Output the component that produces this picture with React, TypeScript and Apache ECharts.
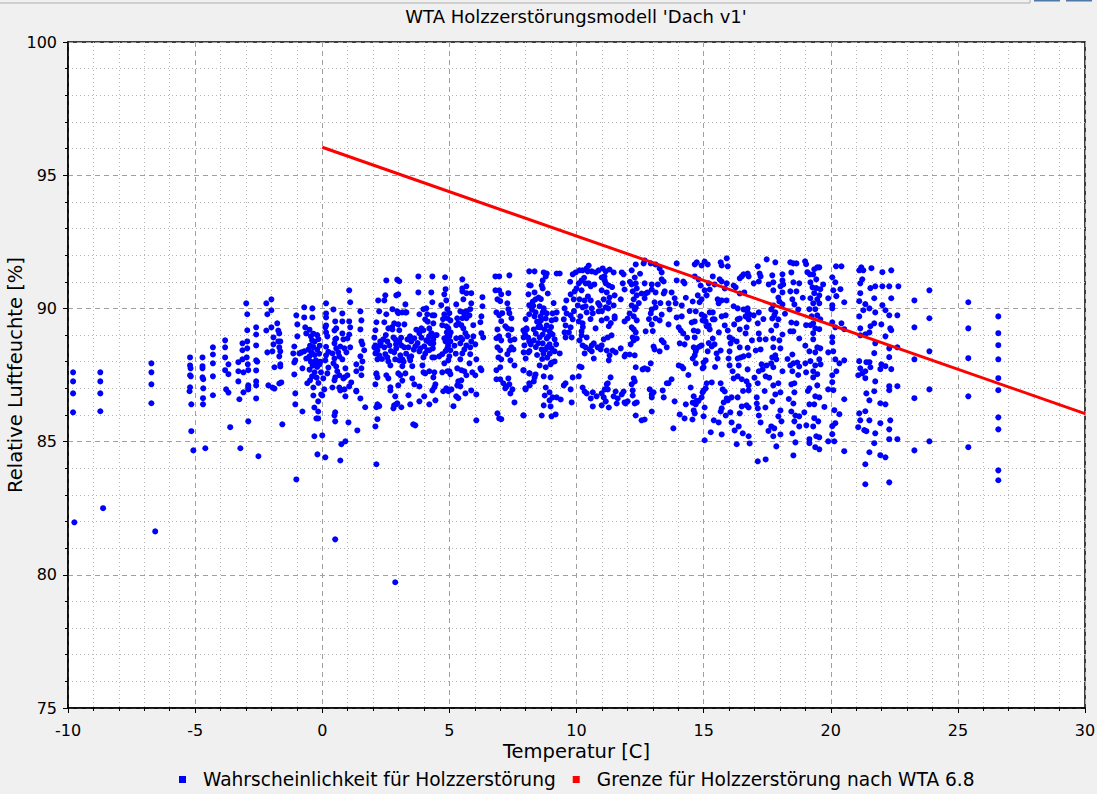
import React, { useEffect, useRef } from "react";
import * as echarts from "echarts";

// Temperatur [°C], relative Luftfeuchte [%]
const coldPoints: [number, number][] = [
  [-9.8, 87.6], [-9.8, 87.26], [-9.8, 86.81], [-9.8, 86.1], [-9.75, 81.97],
  [-8.73, 87.6], [-8.73, 87.26], [-8.73, 86.81], [-8.73, 86.14], [-8.62, 82.5],
  [-6.72, 87.94], [-6.72, 87.6], [-6.72, 87.15], [-6.72, 86.44], [-6.57, 81.63],
  [-5.2, 88.16], [-5.2, 87.86], [-5.18, 87.75], [-5.2, 87.49], [-5.17, 87.45], [-5.2, 87.04], [-5.22, 86.89], [-5.15, 86.4], [-5.15, 85.39], [-5.07, 84.67],
  [-4.71, 88.16], [-4.71, 87.83], [-4.71, 87.75], [-4.71, 87.41], [-4.68, 87.34], [-4.68, 87.0], [-4.69, 86.63], [-4.69, 86.4], [-4.6, 84.75],
  [-4.3, 88.54], [-4.3, 88.27], [-4.3, 87.94], [-4.3, 87.45], [-4.3, 86.74],
  [-3.82, 88.8], [-3.82, 88.54], [-3.82, 88.16], [-3.69, 87.9], [-3.82, 87.68], [-3.69, 87.53], [-3.78, 86.96], [-3.69, 86.84], [-3.62, 85.54], [-3.22, 84.75],
  [-2.99, 90.19], [-2.95, 89.78], [-2.95, 89.18], [-2.95, 88.76], [-3.14, 88.69], [-2.95, 88.5], [-3.14, 88.43], [-2.97, 88.16], [-3.14, 88.09], [-3.3, 87.98],
  [-2.93, 87.9], [-2.91, 87.68], [-3.3, 87.64], [-3.1, 87.6], [-3.3, 87.26], [-2.91, 87.11], [-2.91, 87.04], [-2.91, 86.96], [-3.1, 86.85], [-3.26, 86.59],
  [-2.91, 85.76], [-2.51, 84.45],
  [-2.6, 89.29], [-2.6, 89.02], [-2.6, 88.61], [-2.6, 88.05], [-2.56, 88.0], [-2.6, 87.67], [-2.6, 87.26], [-2.6, 87.11], [-2.6, 86.62],
  [-2.2, 90.19], [-2.16, 89.78], [-2.0, 90.34], [-2.0, 89.93], [-2.2, 89.17], [-2.0, 89.29], [-1.92, 88.91], [-1.92, 88.65], [-1.96, 88.39], [-2.16, 88.35],
  [-2.12, 87.11], [-1.96, 87.03], [-1.88, 86.99], [-1.88, 87.79], [-1.57, 85.65],
  [-1.77, 89.44], [-1.73, 89.17], [-1.69, 89.06], [-1.73, 88.76], [-1.65, 88.76], [-1.69, 88.54], [-1.65, 88.39], [-1.69, 88.2], [-1.65, 87.9], [-1.65, 87.82],
  [-1.69, 87.18], [-1.61, 87.22],
];

const thawPoints: [number, number][] = [
  [-1.02, 89.74], [-0.98, 89.4], [-1.1, 88.57], [-0.9, 88.31], [-1.14, 88.31], [-1.1, 87.97], [-1.06, 88.05], [-1.1, 87.52], [-1.06, 86.81], [-1.06, 86.4],
  [-0.78, 86.13], [-1.02, 83.58], [-0.98, 88.95], [-0.82, 88.35], [-0.78, 87.75],
  [-0.71, 90.04], [-0.71, 89.66], [-0.39, 90.0], [-0.39, 89.66], [-0.67, 89.29], [-0.63, 89.06], [-0.71, 88.39], [-0.63, 88.12], [-0.59, 87.19], [-0.35, 87.03],
  [-0.35, 86.73], [-0.31, 86.28], [-0.23, 85.87], [-0.16, 85.87], [-0.16, 86.13], [-0.16, 86.51], [-0.31, 85.2], [-0.19, 84.52], [0.0, 85.23], [-0.04, 86.77],
  [-0.5, 89.2], [-0.45, 88.95], [-0.4, 88.8], [-0.48, 88.6], [-0.35, 88.55], [-0.3, 88.75], [-0.2, 88.45], [-0.42, 88.35], [-0.5, 88.2], [-0.3, 88.25],
  [-0.25, 88.05], [-0.45, 88.0], [-0.38, 87.85], [-0.2, 87.8], [-0.5, 87.7], [-0.3, 87.6], [-0.4, 87.45], [-0.22, 87.4], [-0.48, 87.3], [-0.15, 87.2],
  [-0.1, 88.6], [-0.12, 88.3], [-0.08, 88.0], [-0.05, 87.6], [-0.35, 89.05], [-0.2, 89.0], [-0.15, 88.85], [-0.55, 88.45], [-0.28, 87.95], [-0.1, 87.9],
  [0.15, 90.19], [0.15, 89.81], [0.15, 89.66], [0.15, 89.36], [0.12, 89.29], [0.2, 88.95], [0.15, 88.56], [0.24, 88.37], [0.15, 88.24], [0.12, 88.05],
  [0.04, 87.37], [0.08, 86.96], [0.0, 86.73], [0.12, 84.41], [0.15, 89.1], [0.24, 87.78], [0.2, 87.56],
  [0.44, 89.96], [0.51, 89.51], [0.55, 89.25], [0.48, 89.17], [0.51, 88.84], [0.55, 88.87], [0.48, 88.69], [0.55, 88.5], [0.63, 88.35], [0.4, 88.31],
  [0.48, 88.12], [0.67, 88.2], [0.44, 87.94], [0.55, 87.82], [0.51, 87.41], [0.48, 87.3], [0.67, 87.49], [0.59, 87.64], [0.87, 87.41], [0.4, 87.03],
  [0.67, 87.03], [0.51, 86.1], [0.48, 85.98], [0.51, 85.76], [0.71, 84.29], [0.91, 85.01], [0.75, 84.9], [0.51, 81.33],
  [0.79, 89.81], [0.79, 89.51], [0.79, 89.06], [0.83, 88.84], [0.87, 88.5], [0.95, 88.35], [0.71, 88.57], [0.79, 88.09], [0.91, 87.75], [0.99, 87.49],
  [0.83, 87.37], [0.87, 86.96], [0.71, 86.92], [0.91, 86.7], [1.03, 85.72], [1.06, 90.68], [1.1, 90.23], [1.06, 89.51], [1.1, 89.29], [1.06, 89.02],
  [1.1, 88.54], [0.99, 88.87], [1.34, 87.9], [1.06, 87.07], [1.14, 87.22], [1.34, 86.88], [1.38, 85.42],
  [1.5, 89.89], [1.54, 89.55], [1.5, 89.21], [1.54, 88.76], [1.58, 88.65], [1.65, 88.43], [1.5, 88.2], [1.58, 88.01], [1.54, 87.75], [1.54, 87.49],
  [1.34, 87.64], [1.34, 86.91], [1.5, 86.62], [1.69, 86.29],
];

const springPoints: [number, number][] = [
  [2.2, 90.3], [2.24, 89.89], [2.13, 89.48], [2.09, 89.18], [2.05, 88.9], [2.09, 88.61], [2.13, 88.5], [2.09, 88.31], [2.17, 88.09], [2.13, 87.53],
  [2.17, 87.41], [2.09, 87.15], [2.17, 86.4], [2.13, 86.29], [2.24, 86.33], [2.17, 85.84], [2.09, 85.57], [2.13, 84.15], [2.28, 88.76], [2.05, 88.54],
  [2.17, 88.43], [2.24, 88.24], [2.28, 88.61], [2.13, 87.56],
  [2.52, 91.05], [2.48, 90.49], [2.44, 90.3], [2.52, 89.78], [2.44, 89.48], [2.6, 89.25], [2.4, 88.84], [2.56, 88.76], [2.64, 88.61], [2.44, 88.54],
  [2.48, 88.28], [2.56, 88.16], [2.6, 88.01], [2.68, 87.86], [2.6, 87.37], [2.68, 87.04], [2.68, 86.92], [2.52, 87.49], [2.87, 86.7], [2.99, 87.11],
  [2.83, 86.36], [2.91, 86.4], [2.8, 86.25],
  [2.95, 91.08], [3.03, 91.02], [2.99, 90.53], [2.91, 90.49], [2.95, 89.89], [2.99, 89.82], [3.15, 89.85], [3.27, 89.85], [2.76, 89.97], [2.83, 89.44],
  [2.99, 89.4], [2.76, 89.21], [3.03, 89.18], [2.8, 88.91], [2.87, 88.84], [3.03, 88.76], [3.11, 88.61], [3.23, 88.54], [2.91, 88.5], [2.83, 88.35],
  [3.07, 88.24], [2.87, 88.09], [3.03, 88.05], [3.15, 87.83], [2.99, 87.56], [3.07, 87.49], [3.27, 87.56], [3.15, 87.29], [2.95, 86.44], [3.11, 86.29],
  [3.15, 88.09], [3.23, 89.4], [3.27, 90.15], [2.87, 79.72],
  [3.35, 88.84], [3.39, 88.54], [3.43, 88.16], [3.46, 88.05], [3.5, 88.76], [3.54, 87.83], [3.62, 88.88], [3.66, 88.58], [3.54, 87.37], [3.62, 87.15],
  [3.39, 86.74], [3.46, 86.4], [3.58, 85.65], [3.66, 85.61], [3.31, 89.85], [3.5, 88.2],
  [3.78, 91.2], [3.78, 90.6], [3.82, 89.78], [3.82, 89.07], [3.9, 89.25], [3.98, 89.18], [4.05, 89.59], [4.01, 88.58], [4.09, 88.8], [3.82, 88.39],
  [3.98, 88.16], [3.94, 87.86], [4.05, 87.56], [3.82, 87.07], [3.82, 86.51], [3.98, 87.6], [4.01, 86.7], [4.09, 90.0], [3.98, 89.97], [4.13, 89.78],
  [3.86, 88.5],
  [4.33, 91.2], [4.29, 90.6], [4.33, 90.23], [4.33, 89.74], [4.41, 89.74], [4.37, 89.44], [4.21, 89.25], [4.29, 89.07], [4.41, 88.99], [4.37, 88.84],
  [4.17, 88.76], [4.25, 88.69], [4.37, 88.69], [4.21, 88.43], [4.13, 88.43], [4.33, 88.16], [4.41, 88.16], [4.21, 87.64], [4.41, 87.6], [4.37, 87.41],
  [4.45, 87.15], [4.41, 87.04], [4.33, 86.92], [4.21, 86.4], [4.45, 86.55],
  [4.83, 91.17], [4.85, 90.72], [4.8, 90.53], [4.88, 90.3], [4.68, 90.12], [4.8, 89.78], [4.92, 89.97], [5.0, 89.82], [4.92, 89.63], [5.04, 89.55],
  [4.72, 89.37], [4.88, 89.33], [4.96, 89.25], [4.8, 88.88], [5.0, 88.95], [4.85, 88.76], [5.04, 88.76], [4.92, 88.5], [5.04, 88.43], [4.72, 88.28],
  [4.96, 88.05], [4.8, 87.94], [4.92, 87.64], [5.0, 87.64], [4.72, 87.6], [5.04, 87.53], [4.88, 87.0], [4.96, 86.89], [5.16, 86.33], [4.76, 86.89],
  [5.08, 86.96], [4.9, 89.1], [4.95, 88.6], [4.85, 88.4], [5.0, 88.2], [4.9, 88.9],
  [5.51, 91.09], [5.51, 90.75], [5.67, 90.83], [5.51, 90.64], [5.67, 90.57], [5.86, 90.57], [5.55, 90.34], [5.86, 90.19], [5.27, 90.15], [5.43, 89.89],
  [5.55, 89.85], [5.67, 89.89], [5.31, 89.63], [5.51, 89.63], [5.67, 89.63], [5.27, 89.37], [5.47, 89.37], [5.55, 89.25], [5.63, 89.07], [5.27, 88.88],
  [5.51, 88.84], [5.43, 88.69], [5.67, 88.61], [5.59, 88.46], [5.51, 88.31], [5.43, 88.09], [5.31, 87.75], [5.47, 87.68], [5.59, 87.64], [5.67, 87.49],
  [5.35, 87.26], [5.47, 87.3], [5.31, 87.11], [5.43, 87.07], [5.63, 86.81], [5.35, 86.63], [5.27, 86.7],
  [5.82, 89.97], [5.79, 89.74], [5.94, 89.37], [5.94, 88.95], [5.86, 88.76], [6.02, 88.65], [5.82, 88.54], [6.06, 88.09], [5.82, 88.28], [5.79, 87.94],
  [5.9, 87.6], [6.02, 87.49], [6.22, 87.75], [6.3, 90.42], [6.3, 90.08], [6.26, 89.7], [6.22, 89.48], [6.33, 88.91], [6.26, 89.07], [5.86, 86.92],
  [6.06, 86.77], [6.06, 85.8], [6.26, 87.68],
  [6.81, 91.2], [6.96, 91.2], [6.81, 90.68], [6.96, 90.68], [6.89, 90.34], [7.04, 90.53], [7.0, 90.27], [6.85, 89.85], [6.96, 89.74], [7.08, 89.82],
  [7.04, 89.52], [6.89, 89.21], [6.96, 88.95], [6.85, 88.88], [7.04, 88.8], [6.89, 88.54], [7.0, 88.43], [6.93, 88.16], [7.04, 88.09], [6.85, 87.68],
  [7.0, 87.79], [6.85, 87.34], [7.0, 87.34], [6.96, 85.87], [6.89, 86.06], [7.04, 85.84], [7.12, 87.19], [7.2, 87.0],
  [7.36, 91.24], [7.32, 90.57], [7.28, 90.19], [7.32, 89.97], [7.36, 89.82], [7.44, 89.63], [7.2, 89.33], [7.28, 89.25], [7.44, 89.21], [7.32, 88.99],
  [7.4, 88.8], [7.56, 88.84], [7.44, 88.54], [7.36, 88.43], [7.52, 88.46], [7.28, 88.28], [7.4, 88.05], [7.56, 87.86], [7.32, 87.37], [7.48, 86.96],
  [7.4, 86.81], [7.56, 86.47], [7.24, 87.07], [7.36, 87.15],
  [8.14, 91.39], [8.14, 90.87], [8.11, 90.53], [8.14, 90.12], [8.03, 89.25], [7.91, 89.18], [7.99, 88.99], [7.95, 88.61], [8.14, 88.76], [8.11, 88.35],
  [7.91, 87.68], [8.14, 87.56], [8.14, 87.19], [7.99, 87.0], [7.91, 85.99], [8.14, 89.78],
];

const midPoints: [number, number][] = [
  [8.35, 91.39], [8.71, 91.35], [8.83, 91.31], [8.79, 91.2], [8.67, 91.05], [8.63, 90.86], [8.67, 90.75], [8.35, 90.6], [8.87, 90.56], [8.2, 90.86],
  [8.51, 90.41], [8.39, 90.34], [8.28, 90.26], [8.2, 90.11], [8.55, 90.08], [8.71, 90.0], [8.39, 89.85], [8.67, 89.85], [8.83, 89.81], [8.35, 89.7],
  [8.59, 89.7], [8.79, 89.62], [9.06, 89.81], [9.22, 89.85], [9.02, 89.55], [9.18, 89.59], [8.55, 89.36], [8.83, 89.36], [8.59, 89.29], [8.32, 89.21],
  [8.04, 89.21], [7.96, 89.1], [7.92, 88.91], [8.94, 89.14], [9.06, 89.02], [8.67, 89.02], [8.55, 88.91], [8.83, 88.87], [9.14, 88.84], [8.32, 88.8],
  [8.2, 88.65], [8.67, 88.69], [8.94, 88.65], [9.02, 88.5], [8.79, 88.46], [8.63, 88.46], [9.14, 88.39], [9.34, 88.31], [7.92, 88.35], [8.0, 88.12],
  [9.14, 88.01], [9.02, 87.97], [8.98, 87.9], [8.55, 87.86], [8.79, 87.79], [7.92, 87.67], [8.16, 87.56], [8.39, 87.52], [8.35, 87.41], [8.71, 87.45],
  [8.98, 87.41], [8.32, 87.26], [8.16, 87.11], [8.0, 86.96], [8.79, 87.03], [8.75, 86.73], [8.94, 86.85], [9.06, 86.66], [8.94, 86.55], [9.22, 86.66],
  [9.38, 86.58], [8.71, 86.36], [8.98, 86.32], [8.63, 85.98], [9.18, 86.02], [9.02, 85.95], [7.92, 85.98], [9.22, 91.31], [9.34, 91.31],
  [8.45, 89.5], [8.75, 89.2], [8.9, 88.95], [8.5, 88.7], [8.4, 89.05], [8.7, 88.3], [8.85, 88.15], [8.45, 88.25], [8.6, 89.55], [9.0, 89.3],
  [9.85, 91.28], [9.97, 91.35], [10.12, 91.43], [10.24, 91.43], [10.4, 91.5], [10.48, 91.61], [10.44, 91.39], [10.6, 91.39], [10.75, 91.35], [10.87, 91.43],
  [10.2, 91.05], [10.09, 90.94], [10.36, 90.94], [10.48, 90.94], [10.56, 90.83], [9.93, 90.64], [9.77, 90.53], [10.2, 90.68], [9.89, 90.34], [10.12, 90.34],
  [10.32, 90.3], [10.56, 90.3], [10.05, 90.11], [10.24, 90.04], [10.36, 90.08], [10.4, 89.85], [10.6, 90.0], [10.64, 89.81], [9.53, 90.0], [9.61, 89.81],
  [9.77, 89.74], [9.85, 89.59], [9.5, 89.59], [9.57, 89.36], [9.77, 89.29], [9.57, 88.91], [9.53, 89.1], [9.81, 88.91], [10.09, 89.51], [10.24, 89.44],
  [10.2, 89.14], [10.2, 88.99], [10.12, 88.8], [10.4, 88.91], [10.24, 88.61], [10.36, 88.54], [10.52, 88.46], [10.6, 88.61], [10.68, 88.69], [10.83, 88.54],
  [10.32, 88.31], [10.6, 88.39], [10.68, 88.12], [10.12, 87.82], [10.2, 87.79], [9.85, 87.41], [10.09, 87.45], [9.57, 87.19], [9.5, 87.11], [9.77, 86.96],
  [9.81, 86.47], [10.24, 87.03], [10.32, 86.88], [10.4, 86.81], [10.64, 86.85], [10.79, 86.7], [10.99, 86.81], [11.11, 86.96], [11.19, 87.15], [11.23, 86.96],
  [10.56, 86.62], [10.64, 86.32], [10.99, 86.36], [11.27, 86.28],
  [11.03, 91.5], [11.15, 91.39], [11.3, 91.46], [11.46, 91.35], [10.99, 91.16], [11.11, 91.05], [11.15, 90.94], [11.27, 90.86], [10.99, 90.68], [11.19, 90.6],
  [11.3, 90.41], [11.07, 90.34], [11.27, 90.23], [10.91, 90.11], [11.15, 90.04], [11.5, 90.49], [11.46, 90.11], [10.87, 89.89], [10.99, 89.55], [11.19, 89.62],
  [11.5, 89.62], [11.27, 89.33], [11.07, 88.84], [11.23, 88.91], [11.38, 88.99], [10.99, 88.61], [10.95, 88.46], [11.19, 88.42], [11.3, 88.24], [11.27, 88.05],
  [11.42, 88.42], [11.54, 88.35], [11.34, 87.41], [11.23, 87.19], [11.07, 86.66], [11.15, 86.51], [11.46, 86.7], [11.62, 86.62], [11.54, 86.88], [11.78, 86.77],
  [11.85, 86.88], [11.58, 86.43], [11.89, 86.47], [11.78, 91.35], [11.85, 91.28], [11.82, 90.94], [11.89, 90.71], [11.74, 90.34], [11.5, 89.7],
  [12.17, 91.43], [12.33, 91.65], [12.29, 91.16], [12.17, 90.9], [12.33, 90.94], [12.37, 90.75], [12.21, 90.64], [12.37, 90.49], [12.25, 90.34], [12.17, 90.11],
  [12.33, 90.04], [12.29, 89.96], [12.01, 89.62], [12.09, 89.81], [11.89, 89.51], [12.25, 89.7], [12.37, 89.55], [12.17, 89.29], [12.25, 89.21], [12.33, 89.1],
  [12.21, 88.91], [12.25, 88.8], [12.37, 88.87], [12.13, 88.65], [11.74, 88.5], [11.93, 88.27], [12.09, 88.27], [12.29, 88.24], [11.89, 88.2], [12.33, 87.79],
  [12.25, 87.37], [12.29, 87.26], [12.17, 87.15], [12.21, 86.92], [12.21, 86.73], [11.93, 86.43], [12.01, 86.51], [12.29, 86.43], [12.37, 86.47], [12.33, 85.98],
  [12.56, 85.8], [12.68, 85.83], [12.6, 87.71], [12.68, 87.75], [12.72, 89.14], [12.68, 90.38], [12.56, 90.56], [12.72, 90.56], [12.68, 90.94], [12.64, 91.69],
  [12.68, 91.8],
  [12.92, 91.69], [13.11, 91.65], [13.27, 91.5], [13.35, 91.35], [13.35, 91.09], [13.43, 91.01], [12.96, 90.9], [12.96, 90.71], [13.11, 90.6], [13.07, 90.23],
  [12.96, 89.96], [13.11, 90.04], [12.92, 89.81], [13.11, 89.62], [13.27, 89.55], [13.35, 89.77], [13.47, 90.64], [13.43, 90.56], [13.74, 90.6], [13.62, 90.19],
  [13.66, 89.96], [13.62, 89.4], [12.96, 89.4], [13.35, 88.8], [13.43, 88.72], [13.55, 88.54], [13.03, 88.57], [13.07, 88.46], [13.27, 88.39], [12.92, 87.94],
  [12.8, 87.71], [12.88, 86.96], [13.03, 86.85], [12.96, 86.77], [12.96, 86.66], [13.43, 86.66], [13.39, 86.92], [13.55, 87.19], [13.74, 87.34], [13.62, 87.19],
  [12.96, 86.13], [13.86, 86.51],
];

const warmPoints: [number, number][] = [
  [13.94, 91.69], [13.94, 91.05], [14.2, 91.01], [14.25, 90.94], [13.86, 90.38], [13.9, 90.19], [14.14, 90.11], [14.14, 89.7], [13.94, 89.66], [14.02, 89.29],
  [14.1, 89.17], [14.2, 89.06], [14.06, 88.69], [14.25, 88.65], [14.02, 87.86], [14.14, 87.82], [14.2, 87.75], [14.06, 86.02], [14.25, 85.87], [13.81, 85.5],
  [14.56, 85.83], [14.65, 86.06], [14.61, 86.17], [14.69, 86.4], [14.57, 86.46], [14.73, 86.53], [14.8, 86.53], [14.92, 86.66], [14.96, 86.85], [15.0, 86.92],
  [15.08, 87.0], [14.61, 86.7], [14.49, 87.03], [14.65, 91.65], [14.73, 91.73], [14.92, 91.61], [15.04, 91.76], [15.16, 91.65], [14.65, 91.2], [14.8, 91.09],
  [14.88, 90.86], [15.04, 90.68], [14.77, 90.49], [14.92, 90.34], [14.84, 90.23], [14.57, 90.26], [14.69, 89.89], [14.65, 89.51], [14.53, 89.47], [14.61, 89.17],
  [14.77, 89.14], [14.65, 88.91], [14.61, 88.54], [14.69, 88.39], [14.84, 88.57], [14.92, 88.61], [14.65, 88.24], [14.57, 88.12], [14.69, 87.94], [15.0, 87.97],
  [14.96, 87.75], [14.73, 88.5], [14.92, 89.77], [14.96, 89.55],
  [15.04, 89.7], [15.08, 89.51], [15.12, 89.33], [15.24, 89.85], [15.36, 89.85], [15.36, 89.59], [15.43, 89.59], [15.2, 89.36], [15.24, 89.21], [15.36, 88.87],
  [15.32, 88.57], [15.43, 88.65], [15.51, 88.31], [15.67, 88.42], [15.55, 88.12], [15.16, 88.39], [15.08, 88.05], [15.0, 87.79], [15.12, 87.19], [15.32, 87.22],
  [15.04, 86.28], [15.0, 85.95], [15.04, 85.05], [15.28, 85.35], [15.59, 85.72], [15.67, 86.13], [15.71, 86.25], [15.67, 87.19], [15.75, 86.96], [15.83, 86.88],
  [15.91, 86.62], [15.95, 86.55], [15.79, 86.47], [15.71, 85.27], [15.87, 85.98], [16.02, 87.86], [15.98, 88.12], [16.02, 88.39], [16.06, 88.69], [16.02, 88.91],
  [15.95, 89.17], [15.83, 89.36], [15.71, 89.7], [15.87, 89.74], [15.71, 90.3], [15.83, 90.75], [15.91, 90.94], [15.71, 91.01], [15.63, 91.09], [15.67, 91.73],
  [15.71, 91.61], [15.91, 91.88], [15.95, 91.58], [15.36, 91.2], [15.43, 90.9], [15.2, 90.94], [15.24, 90.71], [15.12, 90.49], [15.55, 90.34], [15.59, 90.19],
  [16.26, 90.79], [16.18, 90.86], [16.42, 91.13], [16.5, 91.2], [16.57, 91.28], [16.73, 91.31], [16.77, 91.2], [16.42, 90.56], [16.18, 90.08], [16.34, 90.0],
  [16.57, 89.96], [16.73, 90.0], [16.73, 89.85], [16.81, 89.77], [16.77, 89.59], [16.65, 89.7], [16.42, 89.62], [16.34, 89.59], [16.42, 89.21], [16.69, 89.29],
  [16.65, 89.06], [16.14, 88.84], [16.3, 88.76], [16.42, 88.54], [16.73, 88.52], [16.77, 88.24], [16.57, 88.2], [16.46, 88.16], [16.34, 88.12], [16.38, 87.86],
  [16.73, 87.71], [16.14, 87.64], [16.34, 87.45], [16.18, 87.37], [16.5, 87.34], [16.69, 87.26], [16.77, 87.11], [16.77, 86.92], [16.1, 86.66], [16.34, 86.66],
  [16.69, 86.36], [16.5, 86.32], [16.77, 86.28], [16.42, 86.06], [16.1, 85.72], [16.38, 85.57], [16.22, 85.42], [16.54, 85.31], [16.77, 85.2], [16.81, 84.93],
  [17.13, 84.26], [17.44, 84.33], [17.09, 86.43], [17.13, 86.25], [17.17, 85.98], [17.24, 85.72], [17.09, 86.66], [17.13, 87.19], [17.17, 87.64], [17.32, 87.71],
  [17.44, 87.45], [17.48, 87.86], [17.28, 87.9], [17.05, 88.42], [17.24, 88.46], [17.2, 88.84], [17.44, 88.84], [17.17, 89.06], [17.13, 89.44], [16.97, 89.74],
  [17.17, 89.85], [17.17, 91.01], [17.2, 91.31], [17.24, 91.2], [17.13, 91.58], [17.48, 91.84], [16.97, 90.94], [17.56, 90.9],
  [17.82, 91.73], [17.7, 91.24], [17.74, 90.98], [17.74, 90.68], [18.02, 90.83], [18.1, 91.28], [18.1, 91.05], [18.13, 90.9], [18.1, 90.6], [17.94, 90.41],
  [17.98, 90.26], [17.74, 90.11], [17.66, 89.96], [17.82, 89.85], [17.78, 89.74], [17.7, 89.62], [17.86, 89.36], [18.1, 90.15], [17.94, 89.59], [17.66, 89.17],
  [17.74, 88.87], [18.1, 89.02], [17.98, 88.8], [17.74, 88.54], [18.02, 88.5], [17.82, 88.24], [17.7, 88.16], [17.66, 87.94], [17.74, 87.79], [17.86, 88.09],
  [18.1, 87.64], [17.94, 87.19], [17.74, 87.11], [17.82, 86.77], [18.02, 86.85], [17.7, 86.51], [17.43, 86.28], [18.02, 86.17], [17.94, 85.95], [17.66, 85.57],
  [17.78, 85.5], [18.06, 85.76], [17.74, 85.2], [17.86, 84.82], [18.02, 85.27], [17.58, 87.4],
  [18.57, 87.19], [18.45, 87.15], [18.57, 86.85], [18.53, 86.43], [18.45, 86.13], [18.61, 85.98], [18.76, 85.95], [18.57, 85.76], [18.76, 85.57], [18.61, 84.97],
  [18.53, 84.48], [18.49, 85.31], [18.41, 91.73], [18.53, 91.69], [18.65, 91.69], [18.45, 91.35], [18.53, 90.98], [18.76, 90.94], [18.41, 90.64], [18.65, 90.64],
  [18.49, 90.34], [18.57, 90.15], [18.72, 89.96], [18.45, 89.47], [18.65, 89.44], [18.41, 89.14], [18.53, 89.14], [18.76, 88.87], [18.49, 88.27], [18.53, 87.94],
  [18.68, 87.97], [18.41, 87.86], [18.76, 87.82], [18.49, 87.64], [18.72, 87.5],
];

const hotPoints: [number, number][] = [
  [18.99, 91.77], [19.03, 91.66], [19.08, 91.36], [19.18, 91.28], [19.31, 91.28], [19.35, 91.47], [19.47, 91.54], [19.55, 91.54], [19.43, 91.09], [19.2, 90.98],
  [19.28, 90.79], [19.43, 90.76], [19.59, 90.72], [19.35, 90.57], [19.55, 90.49], [19.2, 90.38], [19.47, 90.34], [19.31, 90.19], [19.55, 90.19], [19.39, 89.97],
  [19.16, 89.97], [19.47, 89.74], [19.59, 89.59], [19.31, 89.44], [19.03, 89.37], [19.2, 89.37], [19.39, 89.25], [19.55, 89.22], [19.31, 89.07], [19.31, 88.84],
  [19.47, 88.54], [19.59, 88.5], [19.16, 88.39], [19.39, 88.35], [19.55, 88.09], [19.2, 88.02], [19.0, 87.94], [19.39, 87.86], [19.31, 87.64], [19.03, 87.6],
  [19.47, 87.53], [19.31, 87.41], [19.16, 87.0], [19.47, 87.11], [19.39, 86.7], [19.55, 86.66], [19.16, 86.4], [19.35, 86.4], [18.96, 86.1], [19.35, 85.88],
  [19.04, 85.61], [19.31, 85.57], [19.51, 85.76], [19.43, 85.2], [19.16, 85.09], [19.55, 85.16], [19.16, 84.94], [19.39, 84.79], [19.55, 84.71],
  [20.21, 91.58], [20.42, 91.58], [20.06, 91.17], [20.18, 90.98], [20.38, 90.72], [20.1, 90.68], [20.22, 90.46], [20.53, 90.23], [20.06, 90.12], [20.06, 90.0],
  [19.9, 90.38], [20.42, 89.44], [20.53, 89.22], [20.06, 89.48], [20.18, 89.29], [20.06, 88.92], [20.06, 88.73], [20.1, 88.39], [19.9, 88.35], [20.18, 88.09],
  [20.34, 87.94], [20.53, 88.05], [20.06, 87.49], [20.22, 87.64], [20.06, 87.23], [20.1, 86.93], [19.9, 86.96], [20.53, 86.59], [20.14, 86.18], [20.34, 86.03],
  [20.18, 85.69], [20.06, 85.58], [20.06, 85.28], [19.9, 85.01], [20.14, 85.01], [20.53, 84.64],
  [21.2, 91.54], [21.28, 91.43], [21.6, 91.51], [22.03, 91.36], [21.12, 91.43], [21.24, 91.09], [21.16, 90.94], [21.56, 90.76], [21.75, 90.83], [22.03, 90.83],
  [21.16, 90.57], [21.71, 90.38], [21.12, 90.27], [21.36, 90.16], [21.52, 90.0], [21.28, 89.93], [22.03, 90.12], [21.75, 89.85], [21.12, 89.7], [22.15, 89.93],
  [21.71, 89.44], [21.56, 89.33], [21.52, 89.1], [21.16, 89.25], [21.99, 89.4], [21.36, 89.03], [21.16, 88.99], [21.75, 88.69], [21.71, 88.32], [22.15, 88.95],
  [21.12, 88.02], [21.4, 87.98], [21.52, 87.98], [21.56, 87.79], [21.16, 87.75], [21.08, 87.49], [21.36, 87.64], [21.24, 87.56], [21.99, 87.9], [21.95, 87.72],
  [21.75, 87.26], [21.36, 87.38], [21.71, 86.89], [21.4, 86.81], [21.52, 86.55], [21.95, 86.44], [22.15, 86.4], [21.12, 86.06], [21.36, 86.14], [21.16, 85.8],
  [21.52, 85.8], [21.95, 85.69], [21.08, 85.54], [21.32, 85.43], [21.4, 85.39], [21.75, 85.31], [21.71, 84.94], [21.52, 84.6], [21.95, 84.49], [22.15, 84.41],
  [21.36, 84.15], [21.36, 83.4],
  [22.38, 91.43], [22.3, 90.83], [22.66, 90.83], [22.38, 90.38], [22.3, 89.74], [22.62, 89.74], [22.34, 89.25], [22.38, 89.18], [22.3, 88.5], [22.62, 88.54],
  [22.3, 88.17], [22.38, 87.72], [22.15, 87.83], [22.3, 87.08], [22.62, 87.08], [22.3, 86.93], [22.34, 85.8], [22.3, 85.46], [22.3, 85.09], [22.62, 85.09],
  [22.3, 83.47],
  [23.29, 90.3], [23.29, 89.29], [23.29, 88.09], [23.29, 86.63], [23.29, 84.67],
  [23.88, 90.68], [23.88, 89.63], [23.88, 88.39], [23.88, 86.96], [23.88, 85.01],
  [25.41, 90.23], [25.41, 89.25], [25.41, 88.13], [25.41, 86.7], [25.41, 84.79],
  [26.59, 89.7], [26.59, 89.07], [26.59, 88.62], [26.59, 88.09], [26.59, 87.38], [26.59, 86.93], [26.59, 85.91], [26.59, 85.46], [26.59, 83.92], [26.59, 83.55],
];

// extra points in the densest blobs
const densePoints: [number, number][] = [
  [2.3, 88.7], [2.5, 89.0], [2.7, 88.4], [2.9, 88.65], [3.1, 88.9], [3.3, 88.3], [3.45, 88.95], [3.6, 88.45], [3.75, 88.7], [3.9, 88.9],
  [4.05, 88.3], [4.2, 88.95], [4.35, 88.5], [4.5, 89.0], [2.35, 88.1], [2.75, 89.3], [3.2, 88.0], [3.7, 89.2], [4.15, 89.5], [4.6, 88.2],
  [4.75, 89.6], [5.05, 89.1], [5.2, 88.6], [5.35, 89.45], [5.45, 88.9], [5.6, 89.7], [5.25, 88.3], [5.7, 88.95],
  [8.0, 89.6], [8.1, 88.9], [8.25, 89.95], [8.4, 88.55], [8.5, 89.3], [8.65, 88.1], [8.75, 89.85], [8.85, 88.55], [9.0, 89.05], [9.1, 90.2],
  [9.2, 88.65], [8.3, 90.1], [8.6, 90.35], [8.95, 88.3], [8.15, 88.4],
  [9.6, 90.3], [9.75, 91.0], [9.9, 89.9], [10.0, 90.75], [10.15, 89.7], [10.3, 91.15], [10.45, 90.45], [10.55, 89.6], [10.7, 90.9], [10.85, 90.2],
  [11.0, 89.9], [11.1, 91.2], [11.25, 90.0], [11.4, 90.8], [10.25, 89.3], [10.75, 89.25], [9.7, 89.1], [11.35, 89.45],
  [12.1, 91.0], [12.45, 90.2], [12.5, 91.3], [12.8, 90.6], [13.0, 89.15], [13.2, 90.9], [12.85, 89.6], [13.3, 90.2],
  [14.3, 90.4], [14.45, 89.9], [14.35, 88.9], [14.4, 87.5], [14.3, 86.4], [15.2, 88.7], [15.45, 87.8], [15.6, 89.1], [15.9, 90.3], [16.05, 86.1],
  [16.2, 89.4], [16.6, 90.6], [16.55, 86.9], [16.9, 88.8], [17.0, 87.4], [17.35, 89.6], [17.4, 86.9], [17.55, 85.4], [15.4, 85.8], [16.3, 84.9],
  [18.2, 89.8], [18.3, 88.1], [18.35, 86.6], [18.9, 90.4], [19.0, 88.6], [19.1, 86.9], [19.25, 89.7], [19.6, 87.9], [19.7, 90.9], [19.75, 86.3],
];

// WTA 6.8 Grenzlinie
const limitLine: [number, number][] = [
  [0, 96.05],
  [30, 86.05],
];

const seriesNames = [
  "Wahrscheinlichkeit für Holzzerstörung",
  "Grenze für Holzzerstörung nach WTA 6.8",
];

const FONT = "'DejaVu Sans', sans-serif";

const App = () => {
  const chartRef = useRef<HTMLDivElement>(null);

  useEffect(() => {
    document.body.style.margin = "0";
    // @ts-ignore
    const chart = echarts.init(chartRef.current, null, { renderer: "svg" });

    const allPoints = [
      ...coldPoints,
      ...thawPoints,
      ...springPoints,
      ...midPoints,
      ...warmPoints,
      ...hotPoints,
      ...densePoints,
    ];

    const options = {
      animation: false,
      backgroundColor: "#f0f0f0",
      textStyle: { fontFamily: FONT },
      graphic: [
        {
          type: "rect",
          shape: { x: -2, y: -10, width: 1032, height: 13 },
          style: { fill: "#f0f0f0", stroke: "#adadad", lineWidth: 1 },
        },
        {
          type: "rect",
          shape: { x: 1034, y: 0, width: 26, height: 1.5 },
          style: { fill: "#4f77a8" },
        },
        {
          type: "rect",
          shape: { x: 1066, y: 0, width: 26, height: 1.5 },
          style: { fill: "#4f77a8" },
        },
        {
          type: "text",
          x: 576,
          y: 7,
          style: {
            text: "WTA Holzzerstörungsmodell 'Dach v1'",
            fill: "#000",
            font: `18px ${FONT}`,
            textAlign: "center",
          },
        },
      ],
      grid: {
        left: 68,
        right: 12,
        top: 42,
        bottom: 86,
        outerBoundsMode: "none",
        containLabel: false,
        show: true,
        backgroundColor: "#fff",
        borderColor: "#000",
        borderWidth: 1.5,
      },
      legend: {
        bottom: 0,
        left: 174,
        itemWidth: 7,
        itemHeight: 7,
        itemGap: 17,
        icon: "rect",
        textStyle: { fontSize: 18.6, color: "#000", fontFamily: FONT, padding: [0, 0, 0, 12] },
        data: seriesNames,
      },
      xAxis: {
        type: "value",
        min: -10,
        max: 30,
        interval: 5,
        name: "Temperatur [C]",
        nameLocation: "middle",
        nameGap: 33,
        nameMoveOverlap: false,
        nameTextStyle: { fontSize: 19.5, color: "#000" },
        axisLine: { onZero: false, lineStyle: { color: "#000", width: 1.5 } },
        axisTick: { length: 5, lineStyle: { color: "#000" } },
        minorTick: { show: true, splitNumber: 5, length: 3, lineStyle: { color: "#000" } },
        axisLabel: { fontSize: 16, color: "#000", margin: 14 },
        splitLine: { lineStyle: { color: "#a0a0a0", type: [5, 4] } },
        minorSplitLine: { show: true, lineStyle: { color: "#b4b4b4", type: [1, 3] } },
      },
      yAxis: {
        type: "value",
        min: 75,
        max: 100,
        interval: 5,
        name: "Relative Luftfeuchte [%]",
        nameLocation: "middle",
        nameGap: 43,
        nameMoveOverlap: false,
        nameTextStyle: { fontSize: 19.5, color: "#000" },
        axisLine: { onZero: false, lineStyle: { color: "#000", width: 1.5 } },
        axisTick: { length: 5, lineStyle: { color: "#000" } },
        minorTick: { show: true, splitNumber: 5, length: 3, lineStyle: { color: "#000" } },
        axisLabel: { fontSize: 16, color: "#000", margin: 11 },
        splitLine: { lineStyle: { color: "#a0a0a0", type: [5, 4] } },
        minorSplitLine: { show: true, lineStyle: { color: "#b4b4b4", type: [1, 3] } },
      },
      series: [
        {
          name: seriesNames[0],
          type: "scatter",
          symbol: "circle",
          symbolSize: 6,
          itemStyle: { color: "#0000ff", opacity: 1 },
          data: allPoints,
        },
        {
          name: seriesNames[1],
          type: "line",
          showSymbol: false,
          itemStyle: { color: "#ff0000" },
          lineStyle: { color: "#ff0000", width: 3 },
          data: limitLine,
        },
      ],
    };

    chart.setOption(options);

    return () => {
      chart.dispose();
    };
  }, []);

  return <div ref={chartRef} style={{ width: "1097px", height: "794px" }} />;
};

export default App;
